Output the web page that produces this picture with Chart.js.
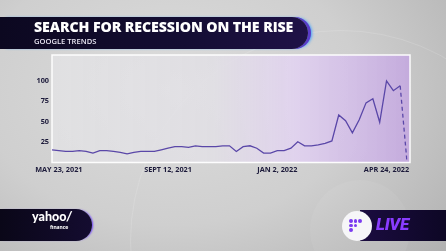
<!DOCTYPE html>
<html>
<head>
<meta charset="utf-8">
<script src="https://cdn.jsdelivr.net/npm/chart.js@4"></script>
<style>
  html,body{margin:0;padding:0;}
  body{width:446px;height:251px;overflow:hidden;position:relative;
    background: radial-gradient(ellipse 420px 300px at 170px 90px, #dcdcdc 0%, #cfcfcf 45%, #b5b5b5 80%, #a3a3a3 100%);
    font-family:"Open Sans","Noto Sans",sans-serif;}
  .ring{position:absolute;border-radius:50%;pointer-events:none;}
  #banner{position:absolute;left:0;top:17px;width:308px;height:32px;
    background:linear-gradient(90deg,#0c0820 0%,#140d33 60%,#1f1247 100%);
    border-radius:0 17px 17px 0;
    box-shadow: 3px 0 0 -0px #5a3cc8, 5px 0 3px -1px #3fa0ff;}
  #title{position:absolute;left:34px;top:19px;color:#fff;font-weight:800;font-size:14.2px;letter-spacing:-0.1px;white-space:nowrap;line-height:16px;}
  #sub{position:absolute;left:34px;top:35.5px;color:#e8e6f2;font-weight:600;font-size:7.6px;white-space:nowrap;line-height:10px;}
  #chartwrap{position:absolute;left:0;top:0;width:446px;height:251px;}
  #yf{position:absolute;left:0;top:209px;width:92px;height:32px;background:linear-gradient(90deg,#0a0718,#140c30);
    border-radius:0 16px 16px 0;box-shadow:2px 0 2px -1px #6a3cff;}
  #yfname{position:absolute;left:32px;top:210px;color:#fff;font-family:"Lato","Open Sans",sans-serif;font-weight:900;font-size:12.5px;line-height:14px;}
  #yffin{position:absolute;left:50px;top:223px;color:#fff;font-family:"Lato","Open Sans",sans-serif;font-weight:900;font-size:5.6px;line-height:7px;}
  #live{position:absolute;left:360px;top:210px;width:86px;height:31px;background:linear-gradient(90deg,#1b0c40,#0d0725);}
  #livecirc{position:absolute;left:342px;top:211px;width:30px;height:30px;border-radius:50%;background:#f6f6f8;}
  .dot{position:absolute;width:3.8px;height:3.8px;border-radius:50%;background:#7b3cf0;}
  #livetxt{position:absolute;left:376px;top:214px;color:#8a3cff;font-family:"Roboto","Open Sans",sans-serif;font-style:italic;font-weight:900;font-size:17px;line-height:20px;letter-spacing:-0.3px;}
</style>
</head>
<body>
<div class="ring" style="left:-80px;top:-150px;width:560px;height:560px;border:1px solid rgba(255,255,255,0.18);"></div>
<div class="ring" style="left:130px;top:30px;width:420px;height:420px;border:1px solid rgba(255,255,255,0.14);"></div>
<div class="ring" style="left:310px;top:180px;width:100px;height:100px;background:rgba(255,255,255,0.06);"></div>
<div id="chartwrap"><canvas id="c" width="446" height="251"></canvas></div>
<div id="banner"></div>
<div id="title">SEARCH FOR RECESSION ON THE RISE</div>
<div id="sub">GOOGLE TRENDS</div>
<div id="yf"></div>
<div id="yfname">yahoo<span style="font-style:italic">/</span></div>
<div id="yffin">finance</div>
<div id="live"></div>
<div id="livecirc"></div>
<div class="dot" style="left:349px;top:219px"></div>
<div class="dot" style="left:353.5px;top:219px"></div>
<div class="dot" style="left:358px;top:219px"></div>
<div class="dot" style="left:349px;top:223.5px"></div>
<div class="dot" style="left:353.5px;top:223.5px"></div>
<div class="dot" style="left:349px;top:228px"></div>
<div id="livetxt">LIVE</div>
<script>
// ---- DATA ----
const weeks = [
 '2021-05-16','2021-05-23','2021-05-30','2021-06-06','2021-06-13','2021-06-20','2021-06-27',
 '2021-07-04','2021-07-11','2021-07-18','2021-07-25','2021-08-01','2021-08-08','2021-08-15',
 '2021-08-22','2021-08-29','2021-09-05','2021-09-12','2021-09-19','2021-09-26','2021-10-03',
 '2021-10-10','2021-10-17','2021-10-24','2021-10-31','2021-11-07','2021-11-14','2021-11-21',
 '2021-11-28','2021-12-05','2021-12-12','2021-12-19','2021-12-26','2022-01-02','2022-01-09',
 '2022-01-16','2022-01-23','2022-01-30','2022-02-06','2022-02-13','2022-02-20','2022-02-27',
 '2022-03-06','2022-03-13','2022-03-20','2022-03-27','2022-04-03','2022-04-10','2022-04-17',
 '2022-04-24','2022-05-01','2022-05-08','2022-05-15'
];
const searchInterest = [
 15,14,13,13,14,13,11,14,14,13,12,10,12,13,13,13,15,17,19,19,18,
 20,19,19,19,20,20,13,19,20,17,11,11,14,14,17,25,20,20,21,23,26,
 58,51,36,52,73,78,49,100,88,94,0
];
const tickDates  = ['2021-05-23','2021-09-12','2022-01-02','2022-04-24'];
const tickLabels = ['MAY 23, 2021','SEPT 12, 2021','JAN 2, 2022','APR 24, 2022'];
const yTicks = [25,50,75,100];

const lastIdx = searchInterest.length - 1;

const boxPlugin = {
  id:'box',
  beforeDatasetsDraw(chart){
    const {ctx, chartArea:a} = chart;
    const l=a.left, r=a.right+3, t=a.top, b=a.bottom+0.5;
    const g = ctx.createLinearGradient(l,0,r,0);
    g.addColorStop(0,'rgba(228,228,230,0.75)');
    g.addColorStop(0.45,'rgba(226,224,230,0.8)');
    g.addColorStop(0.68,'rgba(225,210,240,0.9)');
    g.addColorStop(1,'rgba(196,170,222,0.95)');
    ctx.save();
    ctx.fillStyle=g;
    ctx.fillRect(l,t,r-l,b-t);
    ctx.strokeStyle='rgba(255,255,255,0.95)';
    ctx.lineWidth=1.5;
    ctx.strokeRect(l,t,r-l,b-t);
    ctx.restore();
  }
};

new Chart(document.getElementById('c'),{
  type:'line',
  data:{labels:weeks,datasets:[{
    data:searchInterest,
    borderColor:'#5a47a8',
    borderWidth:1.3,
    pointRadius:0,
    tension:0,
    segment:{borderDash: ctx => ctx.p1DataIndex === lastIdx ? [4,3] : undefined}
  }]},
  options:{
    responsive:false,animation:false,
    layout:{padding:{left:0,right:39,top:55,bottom:0}},
    plugins:{legend:{display:false},tooltip:{enabled:false}},
    scales:{
      x:{
        offset:false,
        grid:{display:false,drawTicks:false},
        border:{display:false},
        afterFit(s){s.height=89;},
        ticks:{
          autoSkip:false,maxRotation:0,padding:4,
          color:'#1c1a3a',font:{family:'Open Sans',weight:'bold',size:7.3},
          callback(v,i){const k=tickDates.indexOf(weeks[i]);return k>=0?tickLabels[k]:'';}
        }
      },
      y:{
        min:0,max:132,
        grid:{display:false,drawTicks:false},
        border:{display:false},
        afterFit(s){s.width=52;},
        afterBuildTicks(s){s.ticks=yTicks.map(v=>({value:v}));},
        ticks:{padding:3,color:'#1c1a3a',font:{family:'Open Sans',weight:'bold',size:7.3}}
      }
    }
  },
  plugins:[boxPlugin]
});
</script>
</body>
</html>
